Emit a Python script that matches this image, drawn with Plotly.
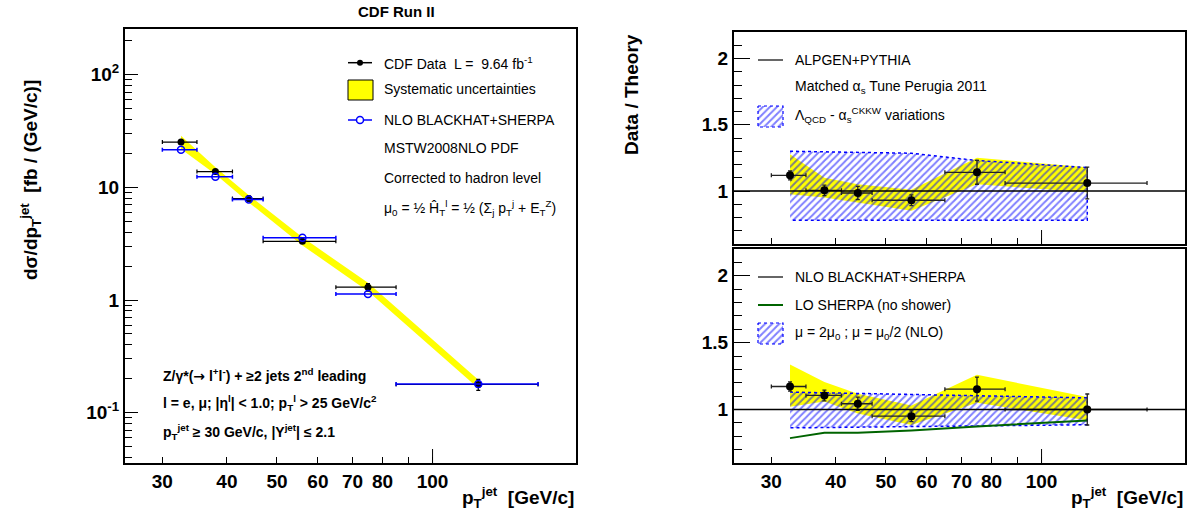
import numpy as np
import plotly.graph_objects as go

# ---------------- data ----------------
pt = [32.6, 38.0, 44.1, 56.0, 75.0, 122.6]
pt_lo = [30, 35, 41, 47, 65, 85]
pt_hi = [35, 41, 47, 65, 85, 160]

data_xs = [25.2, 13.8, 7.95, 3.32, 1.30, 0.178]
data_err = [0.8, 0.5, 0.4, 0.14, 0.10, 0.02]
nlo_xs = [21.6, 12.4, 7.8, 3.57, 1.13, 0.180]
sys_up = [0.14, 0.09, 0.07, 0.085, 0.095, 0.10]
sys_dn = [0.13, 0.055, 0.075, 0.08, 0.08, 0.075]

ratio_alp = [1.118, 1.005, 0.985, 0.93, 1.141, 1.06]
ratio_alp_err = [0.034, 0.04, 0.05, 0.04, 0.09, 0.12]
alp_sys_hi = [1.277, 1.10, 1.05, 1.01, 1.25, 1.18]
alp_sys_lo = [0.975, 0.95, 0.91, 0.85, 1.05, 0.99]
alp_var_hi = [1.30, 1.297, 1.292, 1.285, 1.23, 1.177]
alp_var_lo = [0.78, 0.78, 0.78, 0.78, 0.78, 0.78]

ratio_nlo = [1.172, 1.105, 1.043, 0.95, 1.152, 1.0]
ratio_nlo_err = [0.035, 0.04, 0.05, 0.04, 0.09, 0.116]
nlo_sys_hi = [1.336, 1.205, 1.117, 1.03, 1.26, 1.093]
nlo_sys_lo = [1.02, 1.06, 0.97, 0.885, 1.05, 0.92]
nlo_scale_hi = [1.13, 1.125, 1.117, 1.11, 1.10, 1.087]
nlo_scale_lo = [0.863, 0.865, 0.868, 0.873, 0.88, 0.886]
lo_sherpa = [0.786, 0.826, 0.826, 0.843, 0.873, 0.918]

x_ticks = [30, 40, 50, 60, 70, 80, 90, 100]
x_ticktext = ["30", "40", "50", "60", "70", "80", "", "100"]
y_ticks = [0.1, 1, 10, 100]
y_ticktext = ["10<sup>-1</sup>", "1", "10", "10<sup>2</sup>"]
r_ticks = [1, 1.5, 2]
r_ticktext = ["1", "1.5", "2"]

FONT = "Liberation Sans, Arial, Helvetica, sans-serif"
W, H = 1195, 521
HATCH = dict(shape="/", fgcolor="blue", bgcolor="rgba(0,0,0,0)", size=5, solidity=0.4)

pt_a = np.array(pt)
ex_p = np.array(pt_hi) - pt_a
ex_m = pt_a - np.array(pt_lo)

fig = go.Figure()


def band(xs, hi, lo):
    return list(xs) + list(xs)[::-1], list(hi) + list(lo)[::-1]


# ---------------- left panel ----------------
d = np.array(data_xs)
bx, by = band(pt, d * (1 + np.array(sys_up)), d * (1 - np.array(sys_dn)))
fig.add_trace(go.Scatter(x=bx, y=by, fill="toself", fillcolor="#ffff00",
                         line=dict(width=0), mode="lines", xaxis="x", yaxis="y",
                         hoverinfo="skip"))
fig.add_trace(go.Scatter(x=pt, y=data_xs, mode="markers",
                         marker=dict(symbol="circle", color="black", size=7),
                         error_x=dict(type="data", array=ex_p, arrayminus=ex_m,
                                      color="black", thickness=1.2, width=2),
                         error_y=dict(type="data", array=data_err, color="black",
                                      thickness=1.2, width=2),
                         xaxis="x", yaxis="y"))
fig.add_trace(go.Scatter(x=pt, y=nlo_xs, mode="markers",
                         marker=dict(symbol="circle-open", color="blue", size=7,
                                     line=dict(width=1.5, color="blue")),
                         error_x=dict(type="data", array=ex_p, arrayminus=ex_m,
                                      color="blue", thickness=1.5, width=2),
                         xaxis="x", yaxis="y"))

# ---------------- right top panel ----------------
bx, by = band(pt, alp_sys_hi, alp_sys_lo)
fig.add_trace(go.Scatter(x=bx, y=by, fill="toself", fillcolor="#ffff00",
                         line=dict(width=0), mode="lines", xaxis="x2", yaxis="y2"))
bx, by = band(pt, alp_var_hi, alp_var_lo)
fig.add_trace(go.Scatter(x=bx, y=by, fill="toself", fillcolor="rgba(0,0,0,0)",
                         fillpattern=HATCH,
                         line=dict(width=1.5, color="blue", dash="dot"), mode="lines",
                         xaxis="x2", yaxis="y2"))
fig.add_trace(go.Scatter(x=pt, y=ratio_alp, mode="markers",
                         marker=dict(symbol="circle", color="black", size=8),
                         error_x=dict(type="data", array=ex_p, arrayminus=ex_m,
                                      color="#222", thickness=1.3, width=2),
                         error_y=dict(type="data", array=ratio_alp_err, color="#222",
                                      thickness=1.3, width=2),
                         xaxis="x2", yaxis="y2"))

# ---------------- right bottom panel ----------------
bx, by = band(pt, nlo_sys_hi, nlo_sys_lo)
fig.add_trace(go.Scatter(x=bx, y=by, fill="toself", fillcolor="#ffff00",
                         line=dict(width=0), mode="lines", xaxis="x3", yaxis="y3"))
bx, by = band(pt, nlo_scale_hi, nlo_scale_lo)
fig.add_trace(go.Scatter(x=bx, y=by, fill="toself", fillcolor="rgba(0,0,0,0)",
                         fillpattern=HATCH,
                         line=dict(width=1.5, color="blue", dash="dot"), mode="lines",
                         xaxis="x3", yaxis="y3"))
fig.add_trace(go.Scatter(x=pt, y=lo_sherpa, mode="lines",
                         line=dict(color="#006400", width=2), xaxis="x3", yaxis="y3"))
fig.add_trace(go.Scatter(x=pt, y=ratio_nlo, mode="markers",
                         marker=dict(symbol="circle", color="black", size=8),
                         error_x=dict(type="data", array=ex_p, arrayminus=ex_m,
                                      color="#222", thickness=1.3, width=2),
                         error_y=dict(type="data", array=ratio_nlo_err, color="#222",
                                      thickness=1.3, width=2),
                         xaxis="x3", yaxis="y3"))

# ---------------- legend glyphs (pixel overlay axis) ----------------
def px_line(x0, x1, y, color, width=1.5):
    fig.add_trace(go.Scatter(x=[x0, x1], y=[y, y], mode="lines",
                             line=dict(color=color, width=width), xaxis="x4", yaxis="y4"))


px_line(348, 372, 62.7, "black")
fig.add_trace(go.Scatter(x=[360], y=[62.7], mode="markers",
                         marker=dict(color="black", size=6), xaxis="x4", yaxis="y4"))
fig.add_trace(go.Scatter(x=[348, 373, 373, 348, 348], y=[80, 80, 100, 100, 80],
                         fill="toself", fillcolor="#ffff00", mode="lines",
                         line=dict(color="black", width=1), xaxis="x4", yaxis="y4"))
px_line(348, 372, 120, "blue")
fig.add_trace(go.Scatter(x=[360], y=[120], mode="markers",
                         marker=dict(symbol="circle", color="white", size=7,
                                     line=dict(color="blue", width=1.5)),
                         xaxis="x4", yaxis="y4"))
px_line(758, 783, 60, "black", 1.2)
px_line(758, 783, 277, "black", 1.2)
px_line(758, 783, 305, "#006400", 2)
for (y0, y1) in [(106, 127), (323, 344)]:
    fig.add_trace(go.Scatter(x=[758, 783, 783, 758, 758], y=[y0, y0, y1, y1, y0],
                             fill="toself", fillcolor="rgba(0,0,0,0)",
                             fillpattern=HATCH,
                             line=dict(color="blue", width=1.2, dash="dot"), mode="lines",
                             xaxis="x4", yaxis="y4"))

# ---------------- layout ----------------
def px(xp):
    return xp / W


def py(yp):
    return 1 - yp / H


common_x = dict(type="log", range=[np.log10(25.4), np.log10(189.5)],
                tickvals=x_ticks, ticktext=x_ticktext, ticks="inside", ticklen=6,
                tickwidth=1, tickcolor="black", showline=True, linewidth=2,
                linecolor="black", mirror=True, showgrid=False, zeroline=False,
                tickfont=dict(family=FONT, size=19, color="black", weight="bold"))
ratio_y = dict(range=[0.6, 2.2], tickvals=r_ticks, ticktext=r_ticktext,
               ticks="inside", ticklen=16, tickwidth=1, tickcolor="black",
               minor=dict(tickvals=[0.7, 0.8, 0.9, 1.1, 1.2, 1.3, 1.4, 1.6, 1.7, 1.8,
                                    1.9, 2.1], ticks="inside", ticklen=8,
                          tickcolor="black", tickwidth=1),
               showline=True, linewidth=2, linecolor="black", mirror=True,
               showgrid=False, zeroline=False,
               tickfont=dict(family=FONT, size=19, color="black", weight="bold"))

minor_log = []
for dec in [0.01, 0.1, 1, 10, 100]:
    for k in range(2, 10):
        minor_log.append(round(k * dec, 4))

fig.update_layout(
    width=W, height=H, margin=dict(l=0, r=0, t=0, b=0),
    paper_bgcolor="white", plot_bgcolor="rgba(0,0,0,0)", showlegend=False,
    font=dict(family=FONT, color="black"),
    xaxis=dict(common_x, domain=[px(125), px(576)], anchor="y"),
    yaxis=dict(type="log", range=[-1.446, 2.405], domain=[py(463), py(29)], anchor="x",
               tickvals=y_ticks, ticktext=y_ticktext, ticks="inside", ticklen=13,
               tickwidth=1, tickcolor="black",
               minor=dict(tickvals=minor_log, ticks="inside", ticklen=7,
                          tickcolor="black", tickwidth=1),
               showline=True, linewidth=2, linecolor="black", mirror=True,
               showgrid=False, zeroline=False,
               tickfont=dict(family=FONT, size=19, color="black", weight="bold")),
    xaxis2=dict(common_x, domain=[px(734), px(1185)], anchor="y2", showticklabels=False),
    yaxis2=dict(ratio_y, domain=[py(244), py(32)], anchor="x2"),
    xaxis3=dict(common_x, domain=[px(734), px(1185)], anchor="y3"),
    yaxis3=dict(ratio_y, domain=[py(463), py(249)], anchor="x3"),
    xaxis4=dict(domain=[0, 1], range=[0, W], visible=False, anchor="y4", fixedrange=True),
    yaxis4=dict(domain=[0, 1], range=[H, 0], visible=False, anchor="x4", fixedrange=True),
)

shapes = []
for xr, yr in [("x2", "y2"), ("x3", "y3")]:
    shapes.append(dict(type="line", xref=xr + " domain", yref=yr, x0=0, x1=1, y0=1, y1=1,
                       line=dict(color="black", width=1.3), layer="above"))
for xr, yr, hgt in [("x", "y", 434), ("x2", "y2", 212), ("x3", "y3", 214)]:
    shapes.append(dict(type="line", xref=xr, yref=yr + " domain", x0=100, x1=100,
                       y0=0, y1=14 / hgt, line=dict(color="black", width=1)))
fig.update_layout(shapes=shapes)

ann = []


def text(xp, yp, s, size=14, bold=False, xanchor="left", angle=0):
    ann.append(dict(x=px(xp), y=py(yp), xref="paper", yref="paper", text=s,
                    showarrow=False, xanchor=xanchor, yanchor="middle", textangle=angle,
                    font=dict(family=FONT, size=size, color="black",
                              weight="bold" if bold else "normal")))


ARROW = "<span style='font-family:DejaVu Sans'>→</span>"
text(396, 12, "CDF Run II", 15, True, "center")
text(382, 62.7, "CDF Data  L =  9.64 fb<sup>-1</sup>")
text(382, 89, "Systematic uncertainties")
text(382, 120, "NLO BLACKHAT+SHERPA")
text(382, 148, "MSTW2008NLO PDF")
text(382, 178, "Corrected to hadron level")
text(382, 208, "μ<sub>0</sub> = ½ Ĥ<sub>T</sub><sup>l</sup> = ½ (Σ<sub>j</sub> p<sub>T</sub><sup>j</sup> + E<sub>T</sub><sup>Z</sup>)")
text(161, 375, "Z/γ*(" + ARROW + " l<sup>+</sup>l<sup>-</sup>) + ≥2 jets 2<sup>nd</sup> leading", 14, True)
text(161, 403, "l = e, μ; |η<sup>l</sup>| &lt; 1.0; p<sub>T</sub><sup>l</sup> &gt; 25 GeV/c<sup>2</sup>", 14, True)
text(161, 432, "p<sub>T</sub><sup>jet</sup> ≥ 30 GeV/c, |Y<sup>jet</sup>| ≤ 2.1", 14, True)
text(576, 497, "p<sub>T</sub><sup>jet</sup>  [GeV/c]", 19, True, "right")
text(1185, 497, "p<sub>T</sub><sup>jet</sup>  [GeV/c]", 19, True, "right")
text(30, 180, "dσ/dp<sub>T</sub><sup>jet</sup>  [fb / (GeV/c)]", 19, True, "center", -90)
text(632, 95, "Data / Theory", 19, True, "center", -90)
text(793, 60, "ALPGEN+PYTHIA")
text(793, 87, "Matched α<sub>s</sub> Tune Perugia 2011")
text(793, 115, "Λ<sub>QCD</sub> - α<sub>s</sub><sup>CKKW</sup> variations")
text(793, 277, "NLO BLACKHAT+SHERPA")
text(793, 305, "LO SHERPA (no shower)")
text(793, 333, "μ = 2μ<sub>0</sub> ; μ = μ<sub>0</sub>/2 (NLO)")
fig.update_layout(annotations=ann)

fig.write_html("out.html")
